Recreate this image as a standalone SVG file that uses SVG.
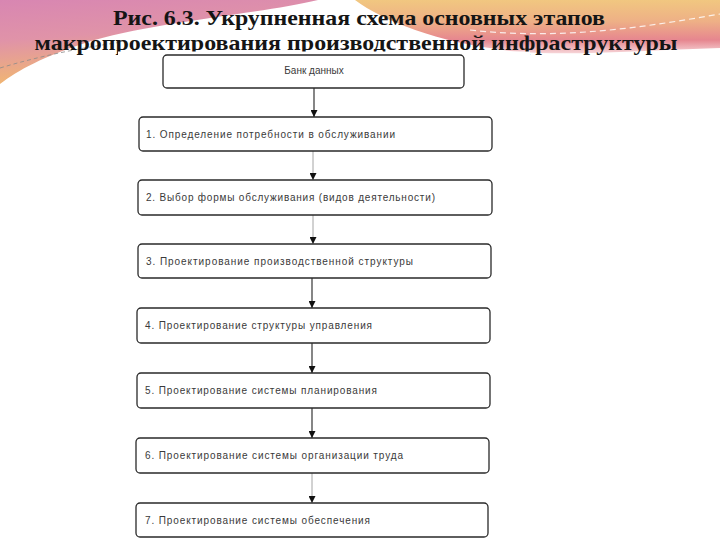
<svg xmlns="http://www.w3.org/2000/svg" width="720" height="540" viewBox="0 0 720 540">
<style>
.title{font-family:"Liberation Serif","DejaVu Serif",serif;font-weight:bold;font-size:22px;fill:#151515;text-anchor:middle}
.box{fill:#ffffff;stroke:#2a2a2a;stroke-width:1.3}
.lbl{font-family:"Liberation Sans","DejaVu Sans",sans-serif;font-size:10px;fill:#3a3a3a}
.con{stroke:#222;stroke-width:1.1;fill:none}
.faint{stroke:#9a9a9a;stroke-width:0.9}
</style>
<defs>
<linearGradient id="gl" x1="0" y1="0" x2="0.3" y2="1">
<stop offset="0" stop-color="#d886b2"/>
<stop offset="0.45" stop-color="#e093a8"/>
<stop offset="1" stop-color="#f3bb6a"/>
</linearGradient>
<linearGradient id="gr" x1="0" y1="0" x2="0" y2="1">
<stop offset="0" stop-color="#f1c780"/>
<stop offset="0.4" stop-color="#eeb086"/>
<stop offset="0.75" stop-color="#e6868f"/>
<stop offset="1" stop-color="#f6d5d8"/>
</linearGradient>
<marker id="ah" viewBox="0 0 7 7" refX="7" refY="3.5" markerWidth="7" markerHeight="7" markerUnits="userSpaceOnUse" orient="auto">
<path d="M0,0 L7,3.5 L0,7 Z" fill="#111"/>
</marker>
</defs>
<rect width="720" height="540" fill="#ffffff"/>
<g id="background">
<path d="M0,0 L318,0 C260,14 150,22 85,43 C45,56 18,70 0,84 Z" fill="url(#gl)"/>
<path d="M355,0 L720,0 L720,48 C650,50 575,56 520,52 C440,44 385,22 355,0 Z" fill="url(#gr)"/>
<path d="M470,30 C560,40 640,28 720,14" fill="none" stroke="#ffffff" stroke-width="1.2" stroke-dasharray="6 4" opacity="0.8"/>
<path d="M0,68 C40,56 80,48 122,42" fill="none" stroke="#8a8a8a" stroke-width="0.8" stroke-dasharray="4 3"/>
</g>
<g id="title">
<text class="title" x="359" y="25" textLength="492" lengthAdjust="spacingAndGlyphs">Рис. 6.3. Укрупненная схема основных этапов</text>
<text class="title" x="356" y="50" textLength="643" lengthAdjust="spacingAndGlyphs">макропроектирования производственной инфраструктуры</text>
</g>
<rect id="scan" x="118" y="51.5" width="412" height="489" fill="#ffffff"/>
<g id="connectors">
<line class="con" x1="314" y1="88" x2="314" y2="117" marker-end="url(#ah)"/>
<line class="con faint" x1="313" y1="151" x2="313" y2="180" marker-end="url(#ah)"/>
<line class="con faint" x1="313" y1="215" x2="313" y2="244" marker-end="url(#ah)"/>
<line class="con" x1="312" y1="278" x2="312" y2="308" marker-end="url(#ah)"/>
<line class="con" x1="312" y1="343" x2="312" y2="373" marker-end="url(#ah)"/>
<line class="con" x1="312" y1="408" x2="312" y2="438" marker-end="url(#ah)"/>
<line class="con faint" x1="312" y1="473" x2="312" y2="503" marker-end="url(#ah)"/>
</g>
<g id="n0">
<rect class="box" x="163" y="55" width="301" height="33" rx="4"/>
<text class="lbl" x="314" y="73.5" text-anchor="middle">Банк данных</text>
</g>
<g id="n1">
<rect class="box" x="139" y="117" width="353" height="34" rx="4"/>
<text class="lbl" x="146" y="137.5" textLength="249" lengthAdjust="spacing">1. Определение потребности в обслуживании</text>
</g>
<g id="n2">
<rect class="box" x="138" y="180" width="354" height="35" rx="4"/>
<text class="lbl" x="146" y="201" textLength="289" lengthAdjust="spacing">2. Выбор формы обслуживания (видов деятельности)</text>
</g>
<g id="n3">
<rect class="box" x="138" y="244" width="353" height="34" rx="4"/>
<text class="lbl" x="146" y="264.5" textLength="267" lengthAdjust="spacing">3. Проектирование производственной структуры</text>
</g>
<g id="n4">
<rect class="box" x="137" y="308" width="353" height="35" rx="4"/>
<text class="lbl" x="145" y="329" textLength="227" lengthAdjust="spacing">4. Проектирование структуры управления</text>
</g>
<g id="n5">
<rect class="box" x="137" y="373" width="353" height="35" rx="4"/>
<text class="lbl" x="145" y="394" textLength="232" lengthAdjust="spacing">5. Проектирование системы планирования</text>
</g>
<g id="n6">
<rect class="box" x="136" y="438" width="353" height="35" rx="4"/>
<text class="lbl" x="145" y="459" textLength="258" lengthAdjust="spacing">6. Проектирование системы организации труда</text>
</g>
<g id="n7">
<rect class="box" x="136" y="503" width="352" height="34" rx="4"/>
<text class="lbl" x="145" y="523.5" textLength="225" lengthAdjust="spacing">7. Проектирование системы обеспечения</text>
</g>
</svg>
